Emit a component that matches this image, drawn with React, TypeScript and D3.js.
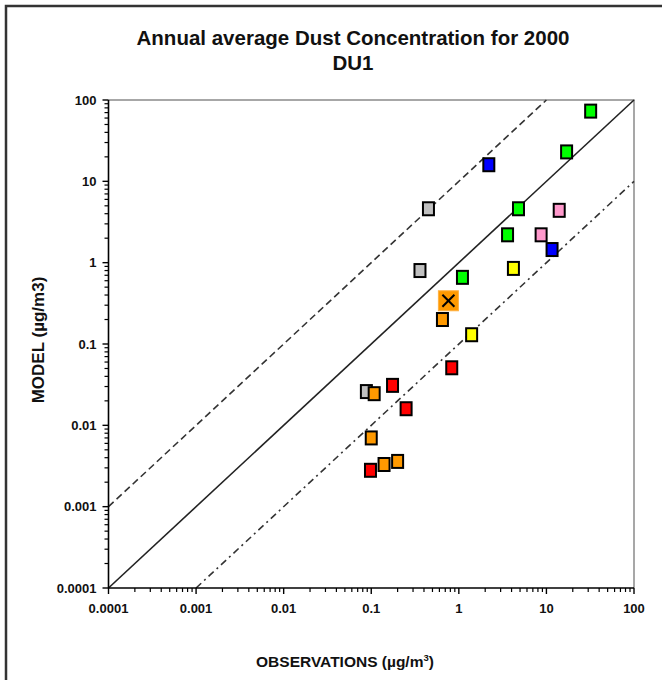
import React from "react";
import * as d3 from "d3";

// Station observations and model values (µg/m3) with their region colour
const observations = [32, 17, 2.2, 0.45, 4.8, 14, 3.6, 8.7, 11.6, 0.36, 4.2, 1.1, 0.65, 1.4, 0.83, 0.088, 0.108, 0.175, 0.25, 0.1, 0.098, 0.14, 0.2];
const modelValues = [73, 23, 16, 4.6, 4.6, 4.4, 2.2, 2.2, 1.45, 0.8, 0.85, 0.66, 0.2, 0.13, 0.051, 0.026, 0.0245, 0.031, 0.016, 0.007, 0.0028, 0.0033, 0.0036];
const siteColors = ["#00ff00", "#00ff00", "#0000ff", "#c0c0c0", "#00ff00", "#ff99cc", "#00ff00", "#ff99cc", "#0000ff", "#c0c0c0", "#ffff00", "#00ff00", "#ff9900", "#ffff00", "#ff0000", "#c0c0c0", "#ff9900", "#ff0000", "#ff0000", "#ff9900", "#ff0000", "#ff9900", "#ff9900"];

// Network mean (observation, model)
const meanPoint = [0.76, 0.34];

const decades = [0.0001, 0.001, 0.01, 0.1, 1, 10, 100];
const tickLabels = ["0.0001", "0.001", "0.01", "0.1", "1", "10", "100"];

const titleLines = ["Annual average Dust Concentration for 2000", "DU1"];

const W = 662;
const H = 680;
const FONT = "'Liberation Sans', Arial, sans-serif";

export default function App() {
  const x = d3.scaleLog().domain([1e-4, 100]).range([108.5, 634]);
  const y = d3.scaleLog().domain([1e-4, 100]).range([588, 100]);

  const minor: number[] = [];
  decades.slice(0, -1).forEach((d) => {
    for (let k = 2; k <= 9; k++) minor.push(d * k);
  });

  const line = d3
    .line<[number, number]>()
    .x((d) => x(d[0]))
    .y((d) => y(d[1]));

  const oneToOne: [number, number][] = [[1e-4, 1e-4], [100, 100]];
  const factorUp: [number, number][] = [[1e-4, 1e-3], [10, 100]];
  const factorDown: [number, number][] = [[1e-3, 1e-4], [100, 10]];

  const x0 = x(1e-4);
  const x1 = x(100);
  const y0 = y(1e-4);
  const y1 = y(100);

  return (
    <svg
      width={W}
      height={H}
      style={{ position: "absolute", left: 0, top: 0, background: "#fff" }}
      fontFamily={FONT}
    >
      {/* outer frame */}
      <path d={`M6,${H} L6,6 L${W},6`} fill="none" stroke="#333" strokeWidth={2.5} />

      {titleLines.map((t, i) => (
        <text
          key={t}
          x={353}
          y={45 + i * 25}
          textAnchor="middle"
          fontSize={20.5}
          fontWeight="bold"
          fill="#111"
        >
          {t}
        </text>
      ))}

      {/* plot frame: top and right */}
      <path d={`M${x0},${y1} L${x1},${y1} L${x1},${y0}`} fill="none" stroke="#8a8a8a" strokeWidth={1.5} />

      {/* reference lines */}
      <path d={line(oneToOne) ?? ""} fill="none" stroke="#222" strokeWidth={1.6} />
      <path d={line(factorUp) ?? ""} fill="none" stroke="#333" strokeWidth={1.6} strokeDasharray="7,4" />
      <path d={line(factorDown) ?? ""} fill="none" stroke="#333" strokeWidth={1.6} strokeDasharray="7,4,2,4" />

      {/* axes */}
      <line x1={x0} x2={x0} y1={y1} y2={y0} stroke="#000" strokeWidth={1.6} />
      <line x1={x0} x2={x1} y1={y0} y2={y0} stroke="#000" strokeWidth={1.6} />
      {decades.map((d) => (
        <g key={"mj" + d}>
          <line x1={x0 - 6} x2={x0} y1={y(d)} y2={y(d)} stroke="#000" strokeWidth={1.4} />
          <line x1={x(d)} x2={x(d)} y1={y0} y2={y0 + 6} stroke="#000" strokeWidth={1.4} />
        </g>
      ))}
      {minor.map((d) => (
        <g key={"mn" + d}>
          <line x1={x0 - 4} x2={x0} y1={y(d)} y2={y(d)} stroke="#000" strokeWidth={1.2} />
          <line x1={x(d)} x2={x(d)} y1={y0} y2={y0 + 4} stroke="#000" strokeWidth={1.2} />
        </g>
      ))}
      {decades.map((d, i) => (
        <g key={"lb" + d}>
          <text x={x0 - 12} y={y(d) + 4.5} textAnchor="end" fontSize={13} fontWeight="bold" fill="#111">
            {tickLabels[i]}
          </text>
          <text x={x(d)} y={y0 + 25} textAnchor="middle" fontSize={13} fontWeight="bold" fill="#111">
            {tickLabels[i]}
          </text>
        </g>
      ))}

      {/* axis titles */}
      <text x={345} y={667} textAnchor="middle" fontSize={15.5} fontWeight="bold" fill="#111">
        OBSERVATIONS (µg/m<tspan dy={-6} fontSize={9.5}>3</tspan>
        <tspan dy={6}>)</tspan>
      </text>
      <text
        transform={`translate(44,340) rotate(-90)`}
        textAnchor="middle"
        fontSize={17}
        fontWeight="bold"
        fill="#111"
      >
        MODEL (µg/m3)
      </text>

      {/* stations */}
      {observations.map((o, i) => (
        <rect
          key={"p" + i}
          x={x(o) - 5.5}
          y={y(modelValues[i]) - 6.5}
          width={11}
          height={13}
          fill={siteColors[i]}
          stroke="#000"
          strokeWidth={2}
        />
      ))}

      {/* mean marker */}
      <g transform={`translate(${x(meanPoint[0])},${y(meanPoint[1])})`}>
        <rect x={-10} y={-10} width={20} height={20} fill="#ff9900" stroke="#ffb040" strokeWidth={1} />
        <line x1={-6} y1={-6} x2={6} y2={6} stroke="#000" strokeWidth={2} />
        <line x1={-6} y1={6} x2={6} y2={-6} stroke="#000" strokeWidth={2} />
      </g>
    </svg>
  );
}
